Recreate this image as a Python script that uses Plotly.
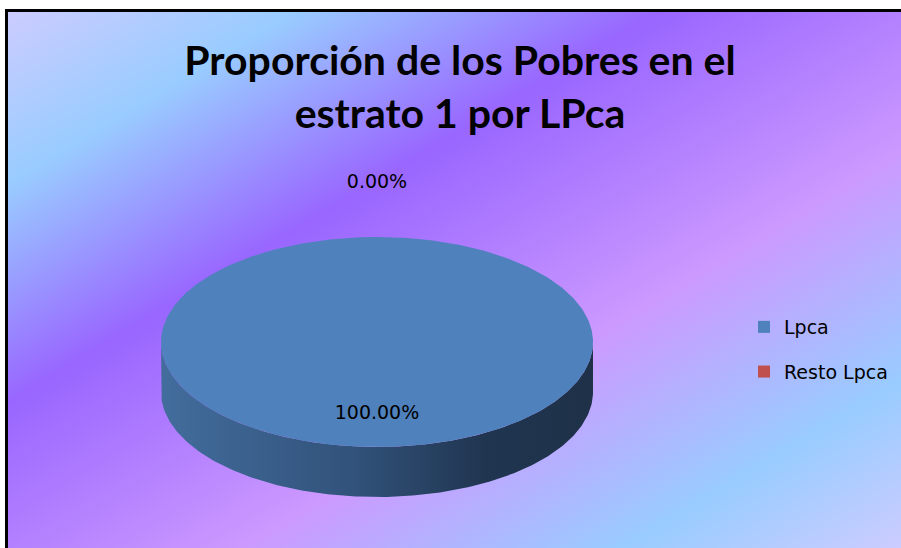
import base64
import numpy as np
import plotly.graph_objects as go

# ---------------- data ----------------
categories = ["Lpca", "Resto Lpca"]
values = [100.0, 0.0]
slice_colors = ["#4F81BD", "#C0504D"]
title_lines = ["Proporción de los Pobres en el", "estrato 1 por LPca"]

# ---------------- layout / style constants ----------------
W, H = 901, 548
BX, BY = 8, 12             # chart-area frame (left / top) in pixels
CX, CY = 377.0, 342.0      # centre of the top face (pixel space)
RX, RY = 216.0, 105.0      # radii of the top face ellipse
DEPTH = 50.0               # thickness of the 3-D disc
IN_R, OUT_R = 0.69, 1.51   # label radii (inside / outside)

total = float(sum(values))
fracs = [v / total for v in values]


def ell(theta_deg, dy=0.0, k=1.0):
    t = np.radians(theta_deg)
    return CX + k * RX * np.sin(t), CY - k * RY * np.cos(t) + dy


fig = go.Figure()

# --- side wall (front half of each slice, extruded downwards) ---
start = 0.0
for f, cat in zip(fracs, categories):
    a0, a1 = start * 360.0, (start + f) * 360.0
    lo, hi = max(a0, 90.0), min(a1, 270.0)
    if hi > lo and f > 0:
        th = np.linspace(lo, hi, 240)
        xt, yt = ell(th)
        xb, yb = ell(th[::-1], dy=DEPTH)
        fig.add_trace(go.Scatter(
            x=np.concatenate([xt, xb, xt[:1]]),
            y=np.concatenate([yt, yb, yt[:1]]),
            mode="lines", line=dict(width=0), fill="toself",
            fillgradient=dict(
                type="horizontal",
                colorscale=[[0, "#436D9D"], [0.45, "#31527A"],
                            [0.75, "#203550"], [1, "#1E3148"]],
                start=CX - RX, stop=CX + RX),
            hoverinfo="skip", showlegend=False))
    start += f

# --- top face ---
start = 0.0
for f, cat, col in zip(fracs, categories, slice_colors):
    a0, a1 = start * 360.0, (start + f) * 360.0
    if f > 0:
        th = np.linspace(a0, a1, 400)
        xs, ys = ell(th)
        if f < 1:
            xs = np.concatenate([[CX], xs, [CX]])
            ys = np.concatenate([[CY], ys, [CY]])
        fig.add_trace(go.Scatter(
            x=xs, y=ys, mode="lines", line=dict(width=0, color=col),
            fill="toself", fillcolor=col, name=cat,
            hoverinfo="name", showlegend=False))
    start += f

# --- data labels ---
lx, ly, lt = [], [], []
start = 0.0
for f in fracs:
    mid = (start + f / 2.0) * 360.0
    k = IN_R if f > 0.05 else OUT_R
    x, y = ell(mid, k=k)
    lx.append(x); ly.append(y); lt.append(f"{f * 100:.2f}%")
    start += f
fig.add_trace(go.Scatter(
    x=lx, y=ly, text=lt, mode="text",
    textfont=dict(family="DejaVu Sans", size=19, color="#000000"),
    hoverinfo="skip", showlegend=False))

# --- legend entries ---
for cat, col in zip(categories, slice_colors):
    fig.add_trace(go.Scatter(
        x=[None], y=[None], mode="markers", name=cat, legendgroup=cat,
        marker=dict(symbol="square", size=12, color=col, line=dict(width=0))))

# --- background gradient (Excel "calm water" style) ---
stops = [(0.0, "#CCCCFF"), (0.16, "#99CCFF"), (0.365, "#9966FF"),
         (0.63, "#CC99FF"), (0.845, "#99CCFF"), (1.0, "#CCCCFF")]
BW, BH = W - BX, H - BY
stop_svg = "".join(f'<stop offset="{o}" stop-color="{c}"/>' for o, c in stops)
svg = (f'<svg xmlns="http://www.w3.org/2000/svg" width="{BW}" height="{BH}" '
       f'viewBox="0 0 {BW} {BH}" preserveAspectRatio="none">'
       f'<defs><linearGradient id="g" x1="0" y1="0" x2="1" y2="1">{stop_svg}'
       f'</linearGradient></defs><rect width="{BW}" height="{BH}" fill="url(#g)"/></svg>')
src = "data:image/svg+xml;base64," + base64.b64encode(svg.encode()).decode()

axis_common = dict(showgrid=False, zeroline=False, showticklabels=False,
                   ticks="", fixedrange=True, showline=True,
                   linecolor="#000000", linewidth=2.5)

fig.update_layout(
    width=W, height=H, autosize=False,
    margin=dict(l=0, r=0, t=0, b=0, pad=0),
    paper_bgcolor="#FFFFFF", plot_bgcolor="rgba(0,0,0,0)",
    images=[dict(source=src, xref="paper", yref="paper",
                 x=BX / W, y=1 - BY / H, sizex=BW / W, sizey=BH / H,
                 xanchor="left", yanchor="top", sizing="stretch", layer="below")],
    xaxis=dict(range=[BX, W], domain=[BX / W, 1], side="top", **axis_common),
    yaxis=dict(range=[H, BY], domain=[0, 1 - BY / H], side="left", **axis_common),
    title=dict(text="<br>".join(title_lines), x=460 / W, xanchor="center",
               y=1 - 75 / H, yanchor="middle",
               font=dict(family="Lato", size=41, color="#000000", weight="bold")),
    legend=dict(x=(784 - 40) / W, xanchor="left", y=1 - 308 / H, yanchor="top",
                font=dict(family="DejaVu Sans", size=19, color="#000000"),
                bgcolor="rgba(0,0,0,0)", borderwidth=0, tracegroupgap=17),
    showlegend=True,
)

fig.write_html("out.html",
               config={"displayModeBar": False},
               post_script="document.body.style.margin='0';")
